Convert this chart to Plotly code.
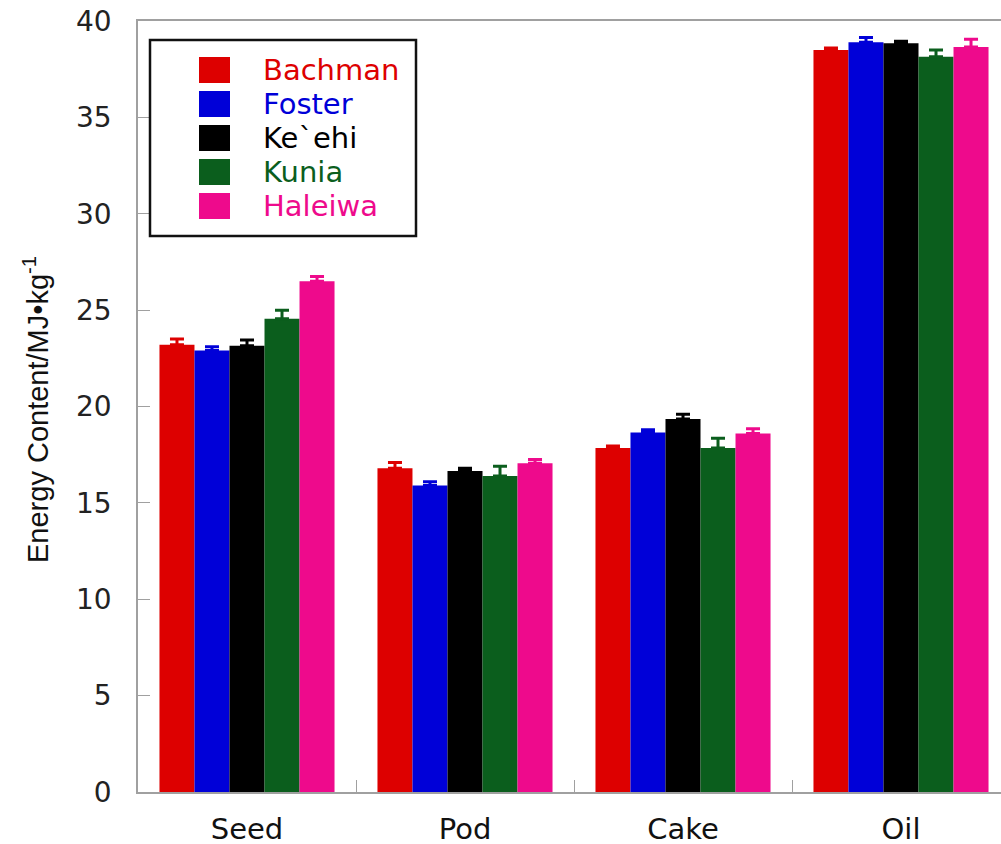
import plotly.graph_objects as go

categories = ["Seed", "Pod", "Cake", "Oil"]
series_names = ["Bachman", "Foster", "Ke`ehi", "Kunia", "Haleiwa"]
colors = ["#dd0000", "#0000d8", "#000000", "#0b5e1d", "#ee0a8c"]

bachman = [23.2, 16.8, 17.85, 38.5]
foster = [22.9, 15.9, 18.65, 38.9]
kehi = [23.15, 16.65, 19.35, 38.85]
kunia = [24.55, 16.4, 17.85, 38.15]
haleiwa = [26.5, 17.05, 18.6, 38.65]

bachman_err = [0.3, 0.3, 0.1, 0.1]
foster_err = [0.2, 0.2, 0.15, 0.25]
kehi_err = [0.3, 0.15, 0.25, 0.1]
kunia_err = [0.45, 0.5, 0.5, 0.35]
haleiwa_err = [0.25, 0.2, 0.25, 0.4]

values = [bachman, foster, kehi, kunia, haleiwa]
errors = [bachman_err, foster_err, kehi_err, kunia_err, haleiwa_err]

W, H = 1001, 844
ML, MR, MT, MB = 138, 0, 21, 52
PW, PH = W - ML - MR, H - MT - MB

def px(x):
    return (x - ML) / PW

def py(y):
    return (H - MB - y) / PH

fig = go.Figure()
for name, vals, errs, col in zip(series_names, values, errors, colors):
    fig.add_trace(go.Bar(
        x=categories, y=vals, name=name,
        marker=dict(color=col, line=dict(width=0)),
        error_y=dict(type="data", symmetric=False, array=errs,
                     arrayminus=[0] * len(errs), color=col,
                     thickness=3, width=7),
        showlegend=False,
    ))

axis_col = "#a0a0a0"
wide_font = "DejaVu Sans, Verdana, sans-serif"
arial = "Liberation Sans, Arial, sans-serif"

fig.update_layout(
    width=W, height=H,
    margin=dict(l=ML, r=MR, t=MT, b=MB, autoexpand=False),
    paper_bgcolor="white", plot_bgcolor="white",
    barmode="group", bargap=0.197, bargroupgap=0,
    font=dict(family=wide_font, color="#222"),
)
fig.update_xaxes(
    range=[-0.5, -0.5 + PW / 218.0], automargin=False,
    showline=True, linecolor=axis_col, linewidth=1.5, mirror=True,
    ticks="inside", tickson="boundaries", ticklen=12, tickcolor=axis_col,
    tickfont=dict(size=29, color="#111", family=wide_font), ticklabelstandoff=10,
    showgrid=False, zeroline=False,
)
fig.update_yaxes(
    range=[0, 40], dtick=5, tick0=0, automargin=False,
    showline=True, linecolor=axis_col, linewidth=1.5, mirror=False,
    ticks="inside", ticklen=12, tickcolor=axis_col,
    tickfont=dict(size=28, color="#222", family=wide_font), ticklabelstandoff=19,
    showgrid=False, zeroline=False,
)

# y-axis title
fig.add_annotation(
    text="Energy Content/MJ\u2022kg<sup>-1</sup>",
    xref="paper", yref="paper", x=px(36), y=py(410),
    xanchor="center", yanchor="middle", textangle=-90,
    showarrow=False, font=dict(size=29, color="#111", family=arial),
)

# manual legend
fig.add_shape(type="rect", xref="paper", yref="paper",
              x0=px(150), x1=px(416), y0=py(236), y1=py(40),
              line=dict(color="#111", width=2.5), fillcolor="white", layer="above")
centers = [70, 104, 138, 172, 206]
for name, col, cy in zip(series_names, colors, centers):
    fig.add_shape(type="rect", xref="paper", yref="paper",
                  x0=px(199), x1=px(230), y0=py(cy + 13), y1=py(cy - 13),
                  line=dict(width=0), fillcolor=col, layer="above")
    fig.add_annotation(text=name, xref="paper", yref="paper",
                       x=px(261), y=py(cy), xanchor="left", yanchor="middle",
                       showarrow=False, font=dict(size=29, color=col, family=wide_font))

fig.write_html(
    "out.html",
    config={"displayModeBar": False},
    post_script="document.body.style.margin='0px';document.body.style.overflow='hidden';",
)
